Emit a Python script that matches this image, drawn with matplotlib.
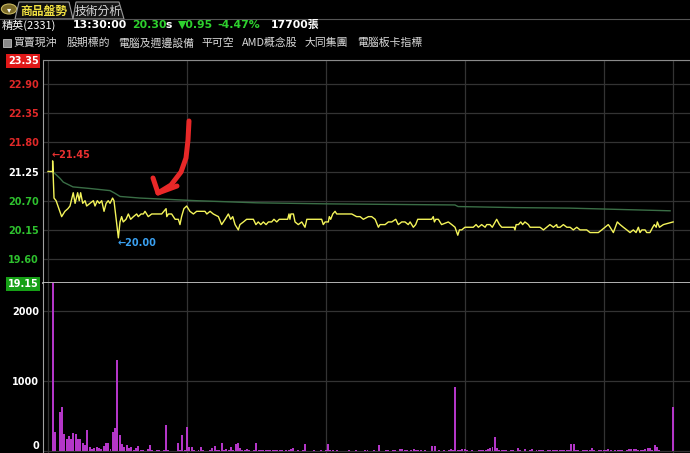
import matplotlib
matplotlib.use('Agg')
import matplotlib.pyplot as plt
from matplotlib.lines import Line2D
from matplotlib.patches import Rectangle, Circle, Polygon

# ---- data (minutes after 09:00) ----
prev_close = 21.25
price_ticks = [19.15, 19.60, 20.15, 20.70, 21.25, 21.80, 22.35, 22.90, 23.35]
vol_ticks = [0, 1000, 2000]
hour_lines = [0, 60, 120, 180, 240, 270]

price_t = [0, 2, 2, 2.6, 3.5, 5.9, 7.3, 8.6, 9.5, 10.9, 11.7, 12.8, 13.5, 14.1, 15.0,
           16.0, 16.7, 18.1, 19.6, 20.3, 21.3, 22.2, 23.2, 24.2, 25.1, 26.0, 26.8, 27.9,
           28.5, 30.4, 31.1, 31.8, 32.5, 33.7, 34.7, 35.7, 36.9, 38.3, 39.0, 40.2, 41.2,
           41.9, 43.3, 44.8, 46.2, 47.7, 49.1, 51.0, 51.3, 52.0, 53.4, 54.9, 56.3, 57.0,
           57.7, 58.7, 59.9, 61.3, 62.8, 64.2, 67.8, 68.6, 70.0, 71.4, 73.6, 75.0, 76.5,
           77.9, 78.9, 79.8, 80.8, 82.2, 82.9, 84.4, 85.8, 87.3, 88.7, 89.8, 90.8, 91.9,
           93.0, 94.2, 95.2, 96.6, 97.6, 98.8, 99.9, 101.6, 103.5, 104.1, 104.5, 104.9,
           106.0, 106.7, 108.1, 109.6, 111.0, 111.8, 118.2, 118.9, 119.7, 121.1, 121.5,
           122.1, 123.0, 124.0, 124.7, 126.9, 128.3, 129.7, 131.2, 133.3, 134.8, 136.2,
           138.4, 139.8, 141.3, 142.7, 143.4, 145.6, 147.0, 148.5, 150.2, 151.3, 152.8,
           154.2, 155.6, 156.4, 157.8, 158.8, 159.7, 160.7, 165.7, 166.4, 166.9, 167.5,
           168.6, 169.3, 170.0, 172.9, 174.4, 175.8, 177.0, 177.7, 178.7, 180.1, 181.6,
           183.7, 184.9, 185.9, 187.3, 188.8, 189.5, 190.9, 191.9, 193.8, 195.0, 196.0,
           199.6, 201.3, 201.7, 202.2, 203.2, 204.2, 205.0, 206.0, 207.5, 208.2, 212.5,
           214.0, 215.4, 216.8, 218.3, 219.7, 220.0, 221.2, 222.6, 224.1, 225.5, 226.9,
           228.4, 229.8, 231.2, 232.7, 234.1, 237.7, 239.2, 240.6, 242.0, 242.8, 244.2,
           245.9, 247.1, 248.5, 250.0, 251.4, 252.8, 254.0, 255.0, 255.7, 256.5, 257.9,
           258.6, 260.0, 261.2, 261.9, 262.7, 263.2, 264.1, 265.8, 270.0]
price_v = [21.25, 21.25, 21.45, 20.75, 20.70, 20.40, 20.50, 20.55, 20.60, 20.85, 20.65,
           20.85, 20.70, 20.85, 20.65, 20.70, 20.60, 20.65, 20.70, 20.60, 20.70, 20.65,
           20.70, 20.50, 20.65, 20.70, 20.65, 20.75, 20.70, 20.00, 20.30, 20.40, 20.30,
           20.35, 20.45, 20.35, 20.40, 20.45, 20.40, 20.45, 20.45, 20.50, 20.40, 20.45,
           20.45, 20.45, 20.45, 20.55, 20.40, 20.45, 20.45, 20.35, 20.35, 20.25, 20.40,
           20.55, 20.60, 20.50, 20.45, 20.50, 20.50, 20.45, 20.50, 20.45, 20.40, 20.25,
           20.35, 20.45, 20.35, 20.40, 20.25, 20.15, 20.25, 20.30, 20.35, 20.35, 20.35,
           20.25, 20.30, 20.25, 20.30, 20.25, 20.30, 20.30, 20.35, 20.30, 20.35, 20.35,
           20.35, 20.45, 20.35, 20.45, 20.45, 20.30, 20.25, 20.30, 20.20, 20.35, 20.35,
           20.25, 20.30, 20.30, 20.40, 20.35, 20.45, 20.50, 20.45, 20.45, 20.45, 20.45,
           20.45, 20.40, 20.40, 20.35, 20.40, 20.40, 20.35, 20.20, 20.25, 20.25, 20.30,
           20.30, 20.35, 20.25, 20.30, 20.30, 20.25, 20.30, 20.20, 20.25, 20.35, 20.35,
           20.35, 20.40, 20.30, 20.35, 20.35, 20.30, 20.25, 20.30, 20.25, 20.20, 20.05,
           20.15, 20.15, 20.20, 20.20, 20.20, 20.25, 20.20, 20.25, 20.20, 20.25, 20.25,
           20.20, 20.35, 20.25, 20.20, 20.20, 20.20, 20.15, 20.25, 20.25, 20.30, 20.25,
           20.30, 20.25, 20.20, 20.20, 20.15, 20.20, 20.25, 20.20, 20.25, 20.20, 20.20,
           20.25, 20.20, 20.20, 20.15, 20.20, 20.15, 20.15, 20.15, 20.10, 20.10, 20.15,
           20.20, 20.25, 20.20, 20.10, 20.30, 20.25, 20.20, 20.15, 20.10, 20.15, 20.10,
           20.20, 20.10, 20.15, 20.15, 20.10, 20.10, 20.20, 20.25, 20.20, 20.30, 20.20,
           20.25, 20.30]

avg_t = [2, 5.2, 6.6, 10.8, 18.1, 26.8, 28.9, 31.1, 39.7, 64.2, 90.2, 121.8, 175.8,
         177.1, 201.7, 225.5, 268.7]
avg_v = [21.25, 21.12, 21.05, 20.96, 20.93, 20.89, 20.84, 20.78, 20.75, 20.70, 20.66,
         20.64, 20.62, 20.59, 20.57, 20.56, 20.51]

# volume per minute, 09:00 .. 13:30
vol = [0, 0, 2400, 277, 0, 560, 625, 240, 170, 220,
       170, 250, 245, 170, 165, 110, 80, 300, 60, 25,
       40, 55, 40, 30, 75, 120, 115, 35, 277, 324,
       1300, 230, 100, 50, 85, 40, 60, 20, 40, 75,
       15, 10, 5, 30, 80, 20, 5, 10, 15, 5,
       10, 372, 10, 5, 5, 0, 120, 10, 229, 15,
       338, 60, 55, 10, 0, 15, 50, 10, 0, 5,
       20, 40, 70, 10, 15, 115, 10, 30, 10, 50,
       20, 100, 115, 40, 20, 10, 25, 10, 5, 10,
       120, 20, 10, 15, 10, 10, 15, 20, 10, 10,
       15, 10, 5, 20, 10, 30, 40, 5, 10, 5,
       10, 100, 0, 0, 5, 10, 5, 0, 10, 5,
       10, 95, 20, 10, 5, 10, 0, 5, 0, 5,
       10, 5, 0, 10, 5, 0, 5, 10, 15, 5,
       5, 10, 5, 80, 5, 0, 10, 15, 5, 10,
       20, 5, 30, 25, 20, 15, 5, 15, 30, 20,
       10, 10, 5, 15, 5, 5, 72, 72, 5, 10,
       5, 10, 5, 10, 30, 15, 920, 15, 20, 25,
       25, 15, 5, 10, 5, 5, 15, 10, 10, 20,
       30, 45, 50, 205, 45, 10, 10, 10, 15, 5,
       10, 10, 5, 45, 10, 5, 35, 5, 10, 35,
       5, 10, 10, 10, 10, 5, 15, 10, 10, 20,
       15, 10, 20, 10, 10, 15, 100, 100, 10, 10,
       5, 15, 10, 15, 20, 40, 10, 5, 20, 15,
       10, 10, 25, 10, 5, 15, 20, 10, 10, 5,
       15, 25, 30, 30, 25, 20, 15, 20, 30, 40,
       40, 20, 85, 50, 10, 0, 0, 0, 0, 0,
       630]
minutes = list(range(len(vol)))

W, H = 690, 453
CJK = ['Noto Sans CJK TC', 'DejaVu Sans']
LAT = ['DejaVu Sans', 'Noto Sans CJK TC']
GRID = '#333333'


def fx(x):
    return x / W


def fy(y):
    return 1 - y / H


fig = plt.figure(figsize=(6.9, 4.53), dpi=100, facecolor='black')

# ---- header ----
fig.add_artist(Circle((fx(9), fy(9)), 5 / H, transform=fig.transFigure,
                      facecolor='#7a6a28', edgecolor='#c8b860', lw=0.8))
fig.text(fx(9), fy(9.5), '▾', color='white', fontsize=6, ha='center', va='center')
fig.add_artist(Polygon([(fx(15), fy(19)), (fx(19), fy(2)), (fx(69), fy(2)), (fx(73), fy(19))],
                       closed=True, transform=fig.transFigure, facecolor='#101010',
                       edgecolor='#9a9a9a', lw=0.8))
fig.add_artist(Polygon([(fx(73), fy(19)), (fx(76), fy(2)), (fx(119), fy(2)), (fx(124), fy(19))],
                       closed=True, transform=fig.transFigure, facecolor='#141414',
                       edgecolor='#9a9a9a', lw=0.8))
fig.add_artist(Line2D([0, 1], [fy(19), fy(19)], transform=fig.transFigure, color='#555555', lw=0.8))
fig.text(fx(20), fy(11), '商品盤勢', color='#f0e040', fontsize=8.5, fontweight='bold',
         family=CJK, va='center')
fig.text(fx(75), fy(11), '技術分析', color='#d8d8d8', fontsize=8.5, family=CJK, va='center')

fig.text(fx(2), fy(25), '精英(2331)', color='white', fontsize=8, family=CJK, va='center')
info = [(73, '13:30:00', 'white'), (132, '20.30', '#2ed02e'), (166, 's', 'white'),
        (178, '▼0.95', '#2ed02e'), (217, '-4.47%', '#2ed02e'), (271, '17700張', 'white')]
for x, s, c in info:
    fig.text(fx(x), fy(25), s, color=c, fontsize=7.8, fontweight='bold', family=LAT, va='center')

fig.add_artist(Rectangle((fx(3), fy(47)), 8 / W, 8 / H, transform=fig.transFigure,
                         facecolor='#8a8a8a', edgecolor='#c0c0c0', lw=0.6))
menu = [(13, '買賣現沖'), (67, '股期標的'), (118, '電腦及週邊設備'), (201, '平可空'),
        (242, 'AMD概念股'), (305, '大同集團'), (357, '電腦板卡指標')]
for x, s in menu:
    fig.text(fx(x), fy(43), s, color='#d8d8d8', fontsize=7.8, family=CJK, va='center')

# ---- price panel ----
x_left, x_right = -2.16, 277.3
ax = fig.add_axes([fx(43), fy(283), fx(690) - fx(43), fy(60) - fy(283)], facecolor='black')
axv = fig.add_axes([fx(43), 0, fx(690) - fx(43), fy(283)], facecolor='black')

for a in (ax, axv):
    a.set_xlim(x_left, x_right)
    a.set_xticks(hour_lines)
    a.tick_params(axis='x', length=0, labelbottom=False)
    a.tick_params(axis='y', length=0, pad=3, labelsize=7)
    a.grid(True, color=GRID, lw=0.9)
    a.set_axisbelow(True)
    for side in ('right', 'top', 'bottom'):
        a.spines[side].set_visible(False)
    a.spines['left'].set_color('#a0a0a0')

ax.set_ylim(price_ticks[0], price_ticks[-1])
ax.set_yticks(price_ticks)
ax.set_yticklabels([f'{v:.2f}' for v in price_ticks])
for lab, v in zip(ax.get_yticklabels(), price_ticks):
    lab.set_fontweight('bold')
    if v > prev_close:
        lab.set_color('#e02828')
    elif v < prev_close:
        lab.set_color('#2ec02e')
    else:
        lab.set_color('white')
top_lab = ax.get_yticklabels()[-1]
top_lab.set_color('white')
top_lab.set_bbox(dict(facecolor='#e01818', edgecolor='none', pad=1.2))
bot_lab = ax.get_yticklabels()[0]
bot_lab.set_color('white')
bot_lab.set_bbox(dict(facecolor='#16a016', edgecolor='none', pad=1.2))
ax.spines['top'].set_visible(True)
ax.spines['top'].set_color('#8a8a8a')
ax.spines['bottom'].set_visible(True)
ax.spines['bottom'].set_color('#d0d0d0')
ax.spines['bottom'].set_linewidth(1.2)

ax.plot(avg_t, avg_v, color='#3a6e46', lw=1.0, zorder=3)
ax.plot(price_t, price_v, color='#f4f45a', lw=1.0, zorder=4)

ax.text(1.7, 21.56, '←21.45', color='#e83030', fontsize=7, fontweight='bold', va='center')
ax.text(30.2, 19.90, '←20.00', color='#3aa0f0', fontsize=7, fontweight='bold', va='center')

# ---- volume panel ----
axv.set_ylim(-28.6, 2400)
axv.set_yticks(vol_ticks)
axv.set_yticklabels([str(v) for v in vol_ticks])
for lab in axv.get_yticklabels():
    lab.set_fontweight('bold')
    lab.set_color('white')
axv.get_yticklabels()[0].set_verticalalignment('bottom')
axv.bar(minutes, vol, width=0.85, color='#b436c8', zorder=3)

# ---- hand drawn red arrow ----
shaft_x = [189, 188, 186, 181, 171, 158]
shaft_y = [121, 140, 158, 172, 185, 193]
fig.add_artist(Line2D([fx(x) for x in shaft_x], [fy(y) for y in shaft_y],
                      transform=fig.transFigure, color='#e82828', lw=3.6,
                      solid_capstyle='round', solid_joinstyle='round'))
fig.add_artist(Line2D([fx(153), fx(158), fx(177)], [fy(178), fy(193), fy(186)],
                      transform=fig.transFigure, color='#e82828', lw=3.6,
                      solid_capstyle='round', solid_joinstyle='round'))

fig.savefig('out.png', dpi=100, facecolor='black')
